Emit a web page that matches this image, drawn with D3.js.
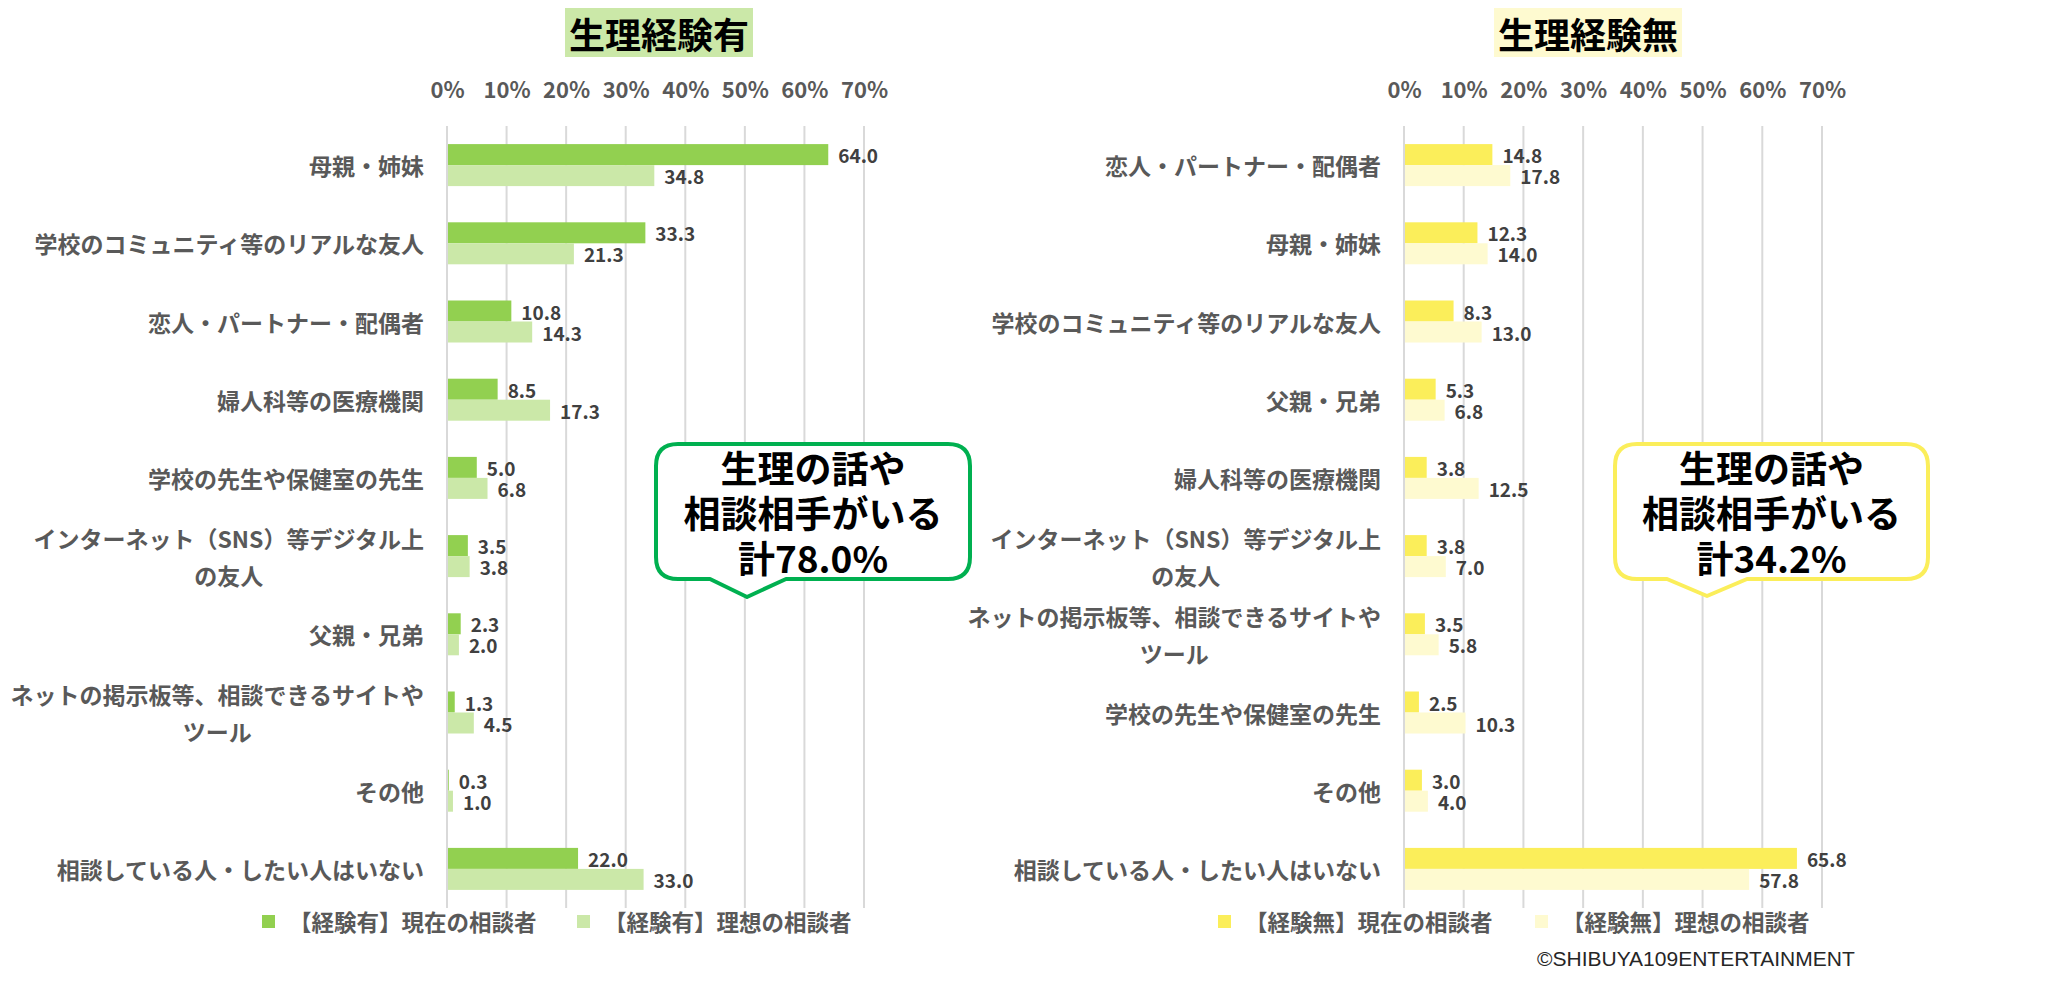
<!DOCTYPE html>
<html>
<head>
<meta charset="utf-8">
<script src="https://cdn.jsdelivr.net/npm/d3@7"></script>
<style>
  body { margin: 0; background: #ffffff; }
  text { font-family: "Noto Sans CJK JP", "Noto Sans", sans-serif; }
</style>
</head>
<body>
<div id="chart"></div>
<script>
// Data
var ticks = [0, 10, 20, 30, 40, 50, 60, 70];

var leftCategories = ["母親・姉妹", "学校のコミュニティ等のリアルな友人", "恋人・パートナー・配偶者",
  "婦人科等の医療機関", "学校の先生や保健室の先生", "インターネット（SNS）等デジタル上\nの友人",
  "父親・兄弟", "ネットの掲示板等、相談できるサイトや\nツール", "その他", "相談している人・したい人はいない"];
var leftCurrent = [64.0, 33.3, 10.8, 8.5, 5.0, 3.5, 2.3, 1.3, 0.3, 22.0];
var leftIdeal = [34.8, 21.3, 14.3, 17.3, 6.8, 3.8, 2.0, 4.5, 1.0, 33.0];
var leftLegend = ["【経験有】現在の相談者", "【経験有】理想の相談者"];

var rightCategories = ["恋人・パートナー・配偶者", "母親・姉妹", "学校のコミュニティ等のリアルな友人",
  "父親・兄弟", "婦人科等の医療機関", "インターネット（SNS）等デジタル上\nの友人",
  "ネットの掲示板等、相談できるサイトや\nツール", "学校の先生や保健室の先生", "その他", "相談している人・したい人はいない"];
var rightCurrent = [14.8, 12.3, 8.3, 5.3, 3.8, 3.8, 3.5, 2.5, 3.0, 65.8];
var rightIdeal = [17.8, 14.0, 13.0, 6.8, 12.5, 7.0, 5.8, 10.3, 4.0, 57.8];
var rightLegend = ["【経験無】現在の相談者", "【経験無】理想の相談者"];

// Set up svg
var svgWidth = 2057;
var svgHeight = 985;

var svg = d3.select("#chart")
  .append("svg")
  .attr("width", svgWidth)
  .attr("height", svgHeight);

var plotTop = 126;
var plotBottom = 908;
var barH = 21;

function drawPanel(p) {
  var g = svg.append("g");

  var xScale = d3.scaleLinear()
    .domain([0, 70])
    .range([p.x0, p.x1]);

  var yScale = d3.scaleBand()
    .domain(d3.range(p.categories.length))
    .range([plotTop, plotBottom]);

  // title box
  g.append("rect")
    .attr("x", p.titleX - 94)
    .attr("y", 8)
    .attr("width", 188)
    .attr("height", 49)
    .attr("fill", p.titleFill);
  g.append("text")
    .attr("x", p.titleX)
    .attr("y", 33)
    .attr("text-anchor", "middle")
    .attr("dominant-baseline", "central")
    .style("font-size", "36px")
    .style("font-weight", "bold")
    .attr("fill", "#000")
    .text(p.title);

  // gridlines
  g.selectAll(".grid")
    .data(ticks)
    .enter()
    .append("line")
    .attr("x1", d => xScale(d))
    .attr("x2", d => xScale(d))
    .attr("y1", plotTop)
    .attr("y2", plotBottom)
    .attr("stroke", "#d9d9d9")
    .attr("stroke-width", 2);

  // top axis labels
  var topAxis = d3.axisTop(xScale)
    .tickValues(ticks)
    .tickFormat(d => d + "%")
    .tickSize(0);
  var axisG = g.append("g")
    .attr("transform", "translate(0, 96)")
    .call(topAxis);
  axisG.select(".domain").remove();
  axisG.selectAll("text")
    .attr("dy", 0)
    .attr("dominant-baseline", "central")
    .attr("y", -8)
    .style("font-family", "\"Noto Sans CJK JP\", sans-serif")
    .style("font-size", "22px")
    .style("font-weight", "bold")
    .attr("fill", "#595959");

  // bars
  var rows = p.categories.map((c, i) => ({ i: i, cur: p.current[i], ideal: p.ideal[i] }));
  var mid = i => yScale(i) + yScale.bandwidth() / 2;

  g.selectAll(".cur")
    .data(rows)
    .enter()
    .append("rect")
    .attr("x", xScale(0) + 1)
    .attr("y", d => mid(d.i) - barH)
    .attr("width", d => Math.max(0, xScale(d.cur) - xScale(0) - 1))
    .attr("height", barH)
    .attr("fill", p.colors[0]);

  g.selectAll(".ideal")
    .data(rows)
    .enter()
    .append("rect")
    .attr("x", xScale(0) + 1)
    .attr("y", d => mid(d.i))
    .attr("width", d => Math.max(0, xScale(d.ideal) - xScale(0) - 1))
    .attr("height", barH)
    .attr("fill", p.colors[1]);

  // value labels
  g.selectAll(".curLabel")
    .data(rows)
    .enter()
    .append("text")
    .attr("x", d => xScale(d.cur) + 10)
    .attr("y", d => mid(d.i) - barH / 2)
    .attr("dominant-baseline", "central")
    .style("font-size", "19px")
    .style("font-weight", "bold")
    .attr("fill", "#404040")
    .text(d => d.cur.toFixed(1));

  g.selectAll(".idealLabel")
    .data(rows)
    .enter()
    .append("text")
    .attr("x", d => xScale(d.ideal) + 10)
    .attr("y", d => mid(d.i) + barH / 2)
    .attr("dominant-baseline", "central")
    .style("font-size", "19px")
    .style("font-weight", "bold")
    .attr("fill", "#404040")
    .text(d => d.ideal.toFixed(1));

  // category labels, right aligned block, lines centred in block
  p.categories.forEach(function(c, i) {
    var lines = c.split("\n");
    var t = g.append("text")
      .style("font-size", "23px")
      .style("font-weight", "bold")
      .attr("fill", "#595959");
    var spans = t.selectAll("tspan")
      .data(lines)
      .enter()
      .append("tspan")
      .attr("dominant-baseline", "central")
      .attr("y", (d, k) => mid(i) + (k - (lines.length - 1) / 2) * 37)
      .text(d => d);
    if (lines.length == 1) {
      spans.attr("x", p.labelRight).attr("text-anchor", "end");
    } else {
      var w = 0;
      spans.each(function() { w = Math.max(w, this.getComputedTextLength()); });
      spans.attr("x", p.labelRight - w / 2).attr("text-anchor", "middle");
    }
  });

  // legend
  p.legend.forEach(function(name, k) {
    var lx = p.legendX[k];
    g.append("rect")
      .attr("x", lx)
      .attr("y", 915)
      .attr("width", 13)
      .attr("height", 13)
      .attr("fill", p.colors[k]);
    g.append("text")
      .attr("x", lx + 27)
      .attr("y", 921)
      .attr("dominant-baseline", "central")
      .style("font-size", "22.5px")
      .style("font-weight", "bold")
      .attr("fill", "#595959")
      .text(name);
  });

  // callout bubble
  var b = p.bubble;
  var r = 22;
  var path = d3.path();
  path.moveTo(b.x0 + r, b.y0);
  path.lineTo(b.x1 - r, b.y0);
  path.quadraticCurveTo(b.x1, b.y0, b.x1, b.y0 + r);
  path.lineTo(b.x1, b.y1 - r);
  path.quadraticCurveTo(b.x1, b.y1, b.x1 - r, b.y1);
  path.lineTo(b.pr, b.y1);
  path.lineTo(b.tip, b.tipY);
  path.lineTo(b.pl, b.y1);
  path.lineTo(b.x0 + r, b.y1);
  path.quadraticCurveTo(b.x0, b.y1, b.x0, b.y1 - r);
  path.lineTo(b.x0, b.y0 + r);
  path.quadraticCurveTo(b.x0, b.y0, b.x0 + r, b.y0);
  path.closePath();
  g.append("path")
    .attr("d", path.toString())
    .attr("fill", "#ffffff")
    .attr("stroke", b.color)
    .attr("stroke-width", 4)
    .attr("stroke-linejoin", "round");
  g.append("text")
    .attr("text-anchor", "middle")
    .style("font-size", "37px")
    .style("font-weight", "bold")
    .attr("fill", "#000")
    .selectAll("tspan")
    .data(b.lines)
    .enter()
    .append("tspan")
    .attr("x", (b.x0 + b.x1) / 2)
    .attr("y", (d, k) => 467 + k * 45)
    .attr("dominant-baseline", "central")
    .text(d => d);
}

drawPanel({
  title: "生理経験有",
  titleX: 659,
  titleFill: "#cbe8a8",
  x0: 447, x1: 864,
  labelRight: 424,
  categories: leftCategories,
  current: leftCurrent,
  ideal: leftIdeal,
  colors: ["#92d050", "#cbe8a8"],
  legend: leftLegend,
  legendX: [262, 577],
  bubble: { x0: 656, x1: 970, y0: 444, y1: 579, pl: 710, pr: 786, tip: 747, tipY: 597,
    color: "#00b050", lines: ["生理の話や", "相談相手がいる", "計78.0%"] }
});

drawPanel({
  title: "生理経験無",
  titleX: 1588,
  titleFill: "#fefad0",
  x0: 1404, x1: 1822,
  labelRight: 1381,
  categories: rightCategories,
  current: rightCurrent,
  ideal: rightIdeal,
  colors: ["#fbee5a", "#fefad0"],
  legend: rightLegend,
  legendX: [1218, 1535],
  bubble: { x0: 1615, x1: 1928, y0: 444, y1: 579, pl: 1667, pr: 1747, tip: 1707, tipY: 596,
    color: "#fbee5a", lines: ["生理の話や", "相談相手がいる", "計34.2%"] }
});

// copyright
svg.append("text")
  .attr("x", 1537)
  .attr("y", 958)
  .attr("dominant-baseline", "central")
  .style("font-family", "\"Liberation Sans\", sans-serif")
  .style("font-size", "21px")
  .attr("fill", "#262626")
  .text("©SHIBUYA109ENTERTAINMENT");
</script>
</body>
</html>
